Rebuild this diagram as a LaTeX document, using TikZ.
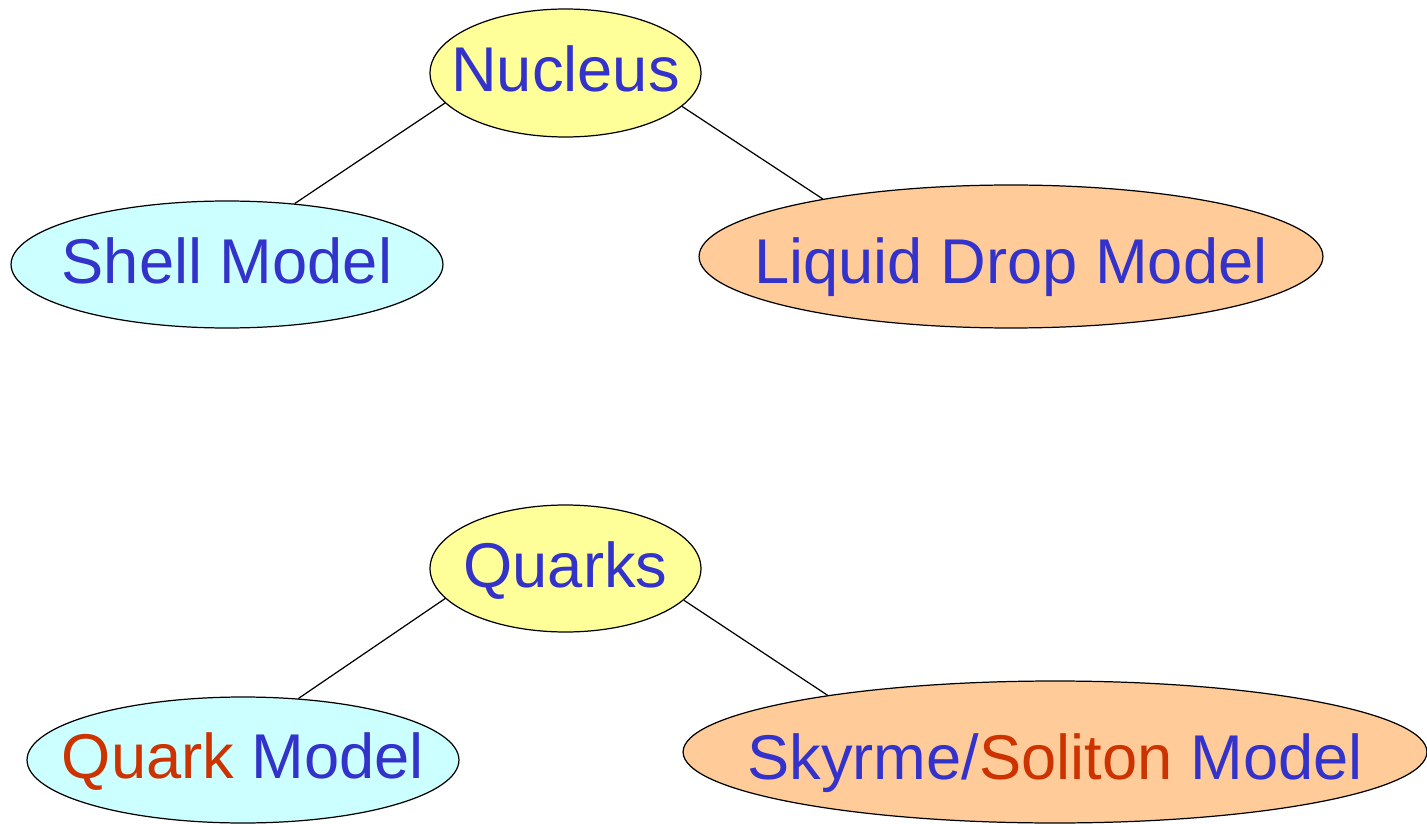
\documentclass[tikz,border=0pt]{standalone}
\usepackage{fontspec}
\setmainfont{Liberation Sans}
\usetikzlibrary{shapes.geometric}
\definecolor{txtblue}{RGB}{51,51,204}
\definecolor{txtred}{RGB}{204,51,0}
\definecolor{topfill}{RGB}{255,255,153}
\definecolor{leftfill}{RGB}{204,255,255}
\definecolor{rightfill}{RGB}{255,204,153}

\begin{document}
\begin{tikzpicture}[x=0.02cm,y=-0.02cm,
    model/.style={ellipse,draw,line width=0.7pt,inner xsep=-1.5cm,inner ysep=0pt,
      text=txtblue,font=\fontsize{36}{40}\selectfont,
      text height=25.9pt,text depth=4.5pt},
    lowtext/.style={text height=31pt,text depth=0pt},
    link/.style={line width=0.7pt}]
  \useasboundingbox (0,0) rectangle (1427,824);
  % upper tree
  \node[model,fill=topfill,minimum width=5.42cm,minimum height=2.56cm] (nucleus) at (565.5,73) {Nucleus};
  \node[model,fill=leftfill,minimum width=8.64cm,minimum height=2.54cm] (shell) at (227,264.5) {Shell Model};
  \node[model,lowtext,fill=rightfill,minimum width=12.48cm,minimum height=2.86cm] (drop) at (1011,256.5) {Liquid Drop Model};
  \draw[link] (nucleus.194.6) -- (shell.42);
  \draw[link] (nucleus.344.9) -- (drop.163.2);
  % lower tree
  \node[model,fill=topfill,minimum width=5.42cm,minimum height=2.54cm] (quarks) at (565.5,568.5) {Quarks};
  \node[model,fill=leftfill,minimum width=8.64cm,minimum height=2.52cm] (quark) at (243,760) {\textcolor{txtred}{Quark} Model};
  \node[model,lowtext,fill=rightfill,minimum width=14.88cm,minimum height=2.84cm] (skyrme) at (1055,752) {Skyrme/\textcolor{txtred}{Soliton} Model};
  \draw[link] (quarks.194.9) -- (quark.48);
  \draw[link] (quarks.345) -- (skyrme.166.2);
\end{tikzpicture}
\end{document}
